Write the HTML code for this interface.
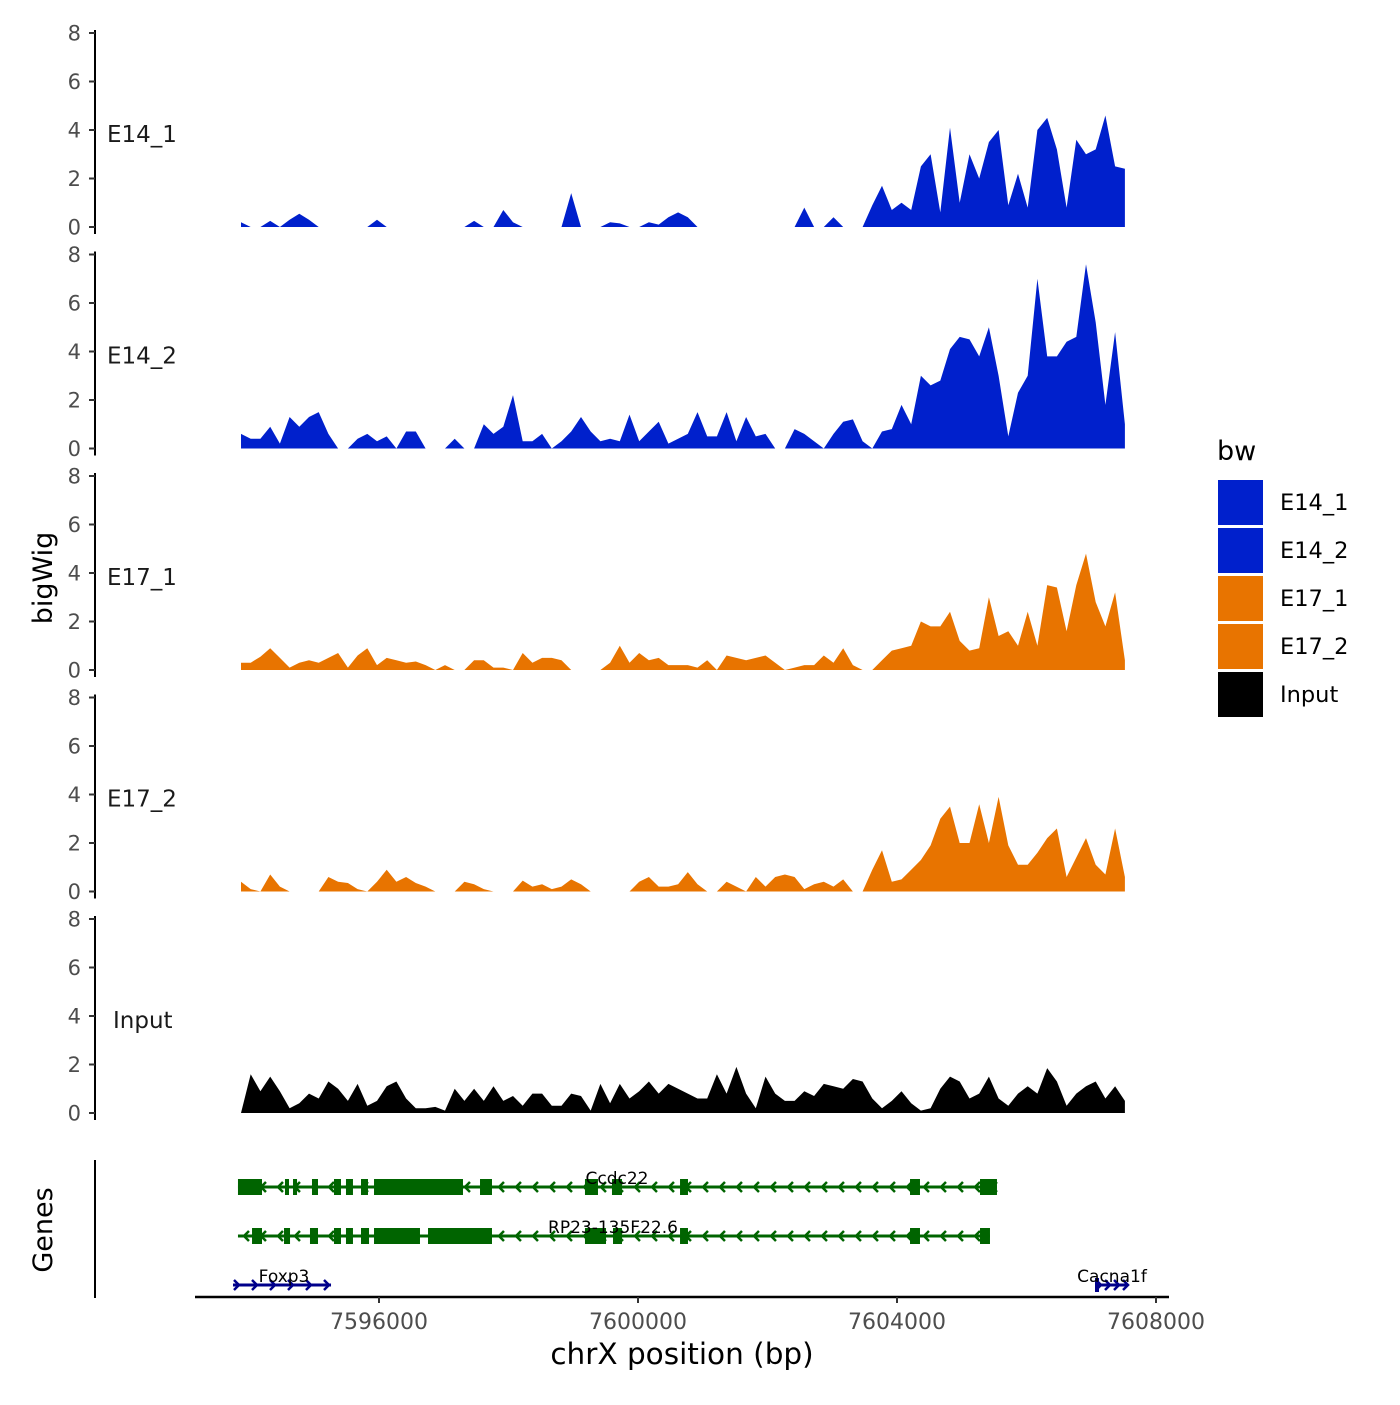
<!DOCTYPE html>
<html><head><meta charset="utf-8"><style>
html,body{margin:0;padding:0;background:#fff;}
svg text{font-family:"DejaVu Sans","Liberation Sans",sans-serif;}
</style></head><body>
<svg id="chart" width="1400" height="1400" viewBox="0 0 1400 1400" xmlns="http://www.w3.org/2000/svg">
<g id="tracks"></g>
<g id="genes"></g>
<g id="xaxis"></g>
<text x="52" y="578" font-size="27" text-anchor="middle" transform="rotate(-90 52 578)" fill="#000">bigWig</text>
<text x="52" y="1230" font-size="27" text-anchor="middle" transform="rotate(-90 52 1230)" fill="#000">Genes</text>
<text x="682" y="1364" font-size="29.5" text-anchor="middle" fill="#000">chrX position (bp)</text>
<g id="legend"></g>
</svg>
<script>
const startBp = 7593869;
const stepBp = 150;
const trackNames = ["E14_1","E14_2","E17_1","E17_2","Input"];
const trackColors = ["#0020CC","#0020CC","#E87400","#E87400","#000000"];
const e14_1 = [0.2,0,0,0.25,0,0.3,0.55,0.3,0,0,0,0,0,0,0.3,0,0,0,0,0,0,0,0,0,0.25,0,0,0.7,0.2,0,0,0,0,0,1.4,0,0,0,0.2,0.15,0,0,0.2,0.1,0.4,0.6,0.4,0,0,0,0,0,0,0,0,0,0,0,0.8,0,0,0.4,0,0,0,0.9,1.7,0.7,1.0,0.7,2.5,3.0,0.6,4.1,1.0,3.0,2.0,3.5,4.0,0.9,2.2,0.8,4.0,4.5,3.2,0.8,3.6,3.0,3.2,4.6,2.5,2.4];
const e14_2 = [0.6,0.4,0.4,0.9,0.2,1.3,0.9,1.3,1.5,0.6,0,0,0.4,0.6,0.3,0.5,0,0.7,0.7,0,0,0,0.4,0,0,1.0,0.6,0.9,2.2,0.3,0.3,0.6,0,0.3,0.7,1.3,0.7,0.3,0.4,0.3,1.4,0.3,0.7,1.1,0.2,0.4,0.6,1.5,0.5,0.5,1.5,0.3,1.3,0.5,0.6,0,0,0.8,0.6,0.3,0,0.6,1.1,1.2,0.3,0,0.7,0.8,1.8,1.0,3.0,2.6,2.8,4.1,4.6,4.5,3.8,5.0,3.0,0.5,2.3,3.0,7.0,3.8,3.8,4.4,4.6,7.6,5.2,1.8,4.8,1.0];
const e17_1 = [0.3,0.3,0.55,0.9,0.5,0.1,0.3,0.4,0.3,0.5,0.7,0.1,0.6,0.9,0.2,0.5,0.4,0.3,0.35,0.2,0,0.2,0,0,0.4,0.4,0.1,0.1,0,0.7,0.3,0.5,0.5,0.4,0,0,0,0,0.3,1.0,0.3,0.7,0.4,0.5,0.2,0.2,0.2,0.1,0.4,0,0.6,0.5,0.4,0.5,0.6,0.3,0,0.1,0.2,0.2,0.6,0.3,0.9,0.2,0,0,0.4,0.8,0.9,1.0,2.0,1.8,1.8,2.4,1.2,0.8,0.9,3.0,1.4,1.6,1.0,2.4,1.0,3.5,3.4,1.6,3.5,4.8,2.8,1.8,3.2,0.4];
const e17_2 = [0.4,0.1,0,0.7,0.2,0,0,0,0,0.6,0.4,0.35,0.1,0,0.4,0.9,0.4,0.6,0.35,0.2,0,0,0,0.4,0.3,0.1,0,0,0,0.45,0.2,0.3,0.1,0.2,0.5,0.3,0,0,0,0,0,0.4,0.6,0.2,0.2,0.3,0.8,0.3,0,0,0.4,0.2,0,0.6,0.2,0.6,0.7,0.6,0.1,0.3,0.4,0.2,0.5,0,0,0.9,1.7,0.4,0.5,0.9,1.3,1.9,3.0,3.5,2.0,2.0,3.6,2.0,3.9,1.9,1.1,1.1,1.6,2.2,2.6,0.6,1.4,2.2,1.1,0.7,2.6,0.6];
const input = [0,1.6,0.9,1.5,0.9,0.2,0.4,0.8,0.6,1.3,1.0,0.5,1.2,0.3,0.5,1.1,1.3,0.6,0.2,0.2,0.25,0.1,1.0,0.5,1.0,0.5,1.1,0.5,0.7,0.3,0.8,0.8,0.3,0.3,0.8,0.7,0.1,1.2,0.4,1.2,0.6,0.9,1.3,0.8,1.2,1.0,0.8,0.6,0.6,1.6,0.8,1.9,0.8,0.2,1.5,0.8,0.5,0.5,0.9,0.7,1.2,1.1,1.0,1.4,1.3,0.6,0.2,0.5,0.9,0.4,0.1,0.2,1.0,1.5,1.3,0.6,0.8,1.5,0.6,0.3,0.8,1.1,0.8,1.85,1.3,0.3,0.8,1.1,1.3,0.6,1.1,0.5];
const yTicks = [0,2,4,6,8];
const xTicks = [7596000,7600000,7604000,7608000];
const xTickLabels = ["7596000","7600000","7604000","7608000"];
const ccdc22Exons = [[7593822,7594193],[7594548,7594610],[7594672,7594734],[7594965,7595058],[7595305,7595413],[7595490,7595598],[7595722,7595830],[7595923,7597297],[7597560,7597745],[7599181,7599382],[7599598,7599753],[7600649,7600772],[7604201,7604355],[7605282,7605544]];
const rp23Exons = [[7594039,7594193],[7594533,7594626],[7594934,7595058],[7595305,7595413],[7595490,7595598],[7595722,7595846],[7595923,7596633],[7596757,7597745],[7599181,7599506],[7599614,7599753],[7600649,7600772],[7604201,7604355],[7605282,7605436]];
const geneNames = ["Ccdc22","RP23-135F22.6","Foxp3","Cacna1f"];
const geneSpans = [[7593822,7605544],[7593822,7605436],[7593745,7595259],[7607058,7607568]];
const geneStrands = [-1,-1,1,1];

const NS="http://www.w3.org/2000/svg";
function mk(tag,attrs,parent){const e=document.createElementNS(NS,tag);for(const k in attrs)e.setAttribute(k,attrs[k]);parent.appendChild(e);return e;}
function xs(bp){return 379+(bp-7596000)*0.06475;}
const yUnit=24.25;
const baselines=[227,448.5,670,891.5,1113];
const allData=[e14_1,e14_2,e17_1,e17_2,input];
const tg=document.getElementById('tracks');
allData.forEach((vals,t)=>{
  const b=baselines[t];
  const g=mk('g',{},tg);
  
  
  let d='M'+xs(startBp)+' '+b;
  vals.forEach((v,i)=>{d+=' L'+xs(startBp+i*stepBp).toFixed(1)+' '+(b-v*yUnit).toFixed(1);});
  d+=' L'+xs(startBp+(vals.length-1)*stepBp).toFixed(1)+' '+b+' Z';
  const p=mk('path',{d:d,fill:trackColors[t]},g);
  
  
  const ax=mk('line',{x1:95,x2:95,y1:b-8*yUnit-3,y2:b+7,stroke:'#000','stroke-width':2},g);
  
  
  yTicks.forEach(v=>{
    const y=b-v*yUnit;
    mk('line',{x1:89,x2:95,y1:y,y2:y,stroke:'#333','stroke-width':2},g);
    const tx=mk('text',{x:81,y:y+7.5,'font-size':21,'text-anchor':'end',fill:'#4d4d4d'},g);
    tx.textContent=v;
    
    
  });
  const lab=mk('text',{x:trackNames[t]==='Input'?113:107,y:b-85,'font-size':23,fill:'#1a1a1a'},g);
  lab.textContent=trackNames[t];
  
  
});
// genes
const gg=document.getElementById('genes');
const gax=mk('line',{x1:95,x2:95,y1:1160,y2:1298,stroke:'#000','stroke-width':2},gg);


const rowY=[1187,1236,1285,1285];
const rowColor=['#006400','#006400','#00008B','#00008B'];
const exonSets=[ccdc22Exons,rp23Exons,[],[[7607058,7607120]]];
geneNames.forEach((nm,i)=>{
  const g=mk('g',{},gg);
  
  
  const y=rowY[i], c=rowColor[i];
  const x1=xs(geneSpans[i][0]), x2=xs(geneSpans[i][1]);
  mk('line',{x1:x1,x2:x2,y1:y,y2:y,stroke:c,'stroke-width':3},g);
  const step=i<2?17:(i===2?18:9);
  for(let x=x1+6;x<x2+1;x+=step){
    const dx=geneStrands[i]*5;
    mk('polyline',{points:(x-dx)+','+(y-5)+' '+x+','+y+' '+(x-dx)+','+(y+5),fill:'none',stroke:c,'stroke-width':2.5},g);
  }
  exonSets[i].forEach(e=>{
    const r=mk('rect',{x:xs(e[0]),y:i<2?y-8:y-7,width:Math.max(3,xs(e[1])-xs(e[0])),height:i<2?16:14,fill:c},g);
    
    
  });
  const cx=[617,613,284,1112][i];
  const t=mk('text',{x:cx,y:y-3,'font-size':17,'text-anchor':'middle',fill:'#000'},g);
  t.textContent=nm;
  
  
});
// x axis
const xg=document.getElementById('xaxis');
const xl=mk('line',{x1:195,x2:1169,y1:1297,y2:1297,stroke:'#000','stroke-width':2.5},xg);


xTicks.forEach((bp,i)=>{
  const x=xs(bp);
  mk('line',{x1:x,x2:x,y1:1297,y2:1303,stroke:'#333','stroke-width':2},xg);
  const t=mk('text',{x:x,y:1329,'font-size':22,'text-anchor':'middle',fill:'#4d4d4d'},xg);
  t.textContent=xTickLabels[i];
  
  
});
// legend
const lg=document.getElementById('legend');
const lt=mk('text',{x:1217,y:460,'font-size':27,fill:'#000'},lg);
lt.textContent='bw';


trackNames.forEach((nm,i)=>{
  const y=480+i*48;
  const r=mk('rect',{x:1218,y:y,width:45,height:45,fill:trackColors[i]},lg);
  
  
  const t=mk('text',{x:1280,y:y+30,'font-size':22.5,fill:'#000'},lg);
  t.textContent=nm;
  
  
});
</script>
</body></html>
